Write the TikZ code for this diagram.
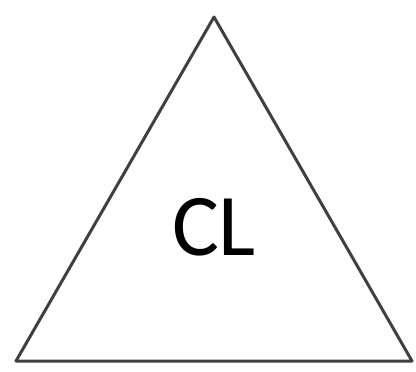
\documentclass[tikz,border=0pt]{standalone}
\usepackage{fontspec}
\setmainfont{Carlito}
\begin{document}
\begin{tikzpicture}[x=1pt,y=-1pt,
  tri/.style={draw=black!75, line width=3pt, line join=round},
  lbl/.style={font=\fontsize{88}{88}\selectfont, inner sep=0pt, anchor=base}]
\useasboundingbox (0,0) rectangle (416,372);
\coordinate (A) at (214,17);
\coordinate (B) at (16,361);
\coordinate (C) at (412,361);
\draw[tri] (A) -- (B) -- (C) -- cycle;
\node[lbl] (cl) at (214,255) {CL};
\end{tikzpicture}
\end{document}
